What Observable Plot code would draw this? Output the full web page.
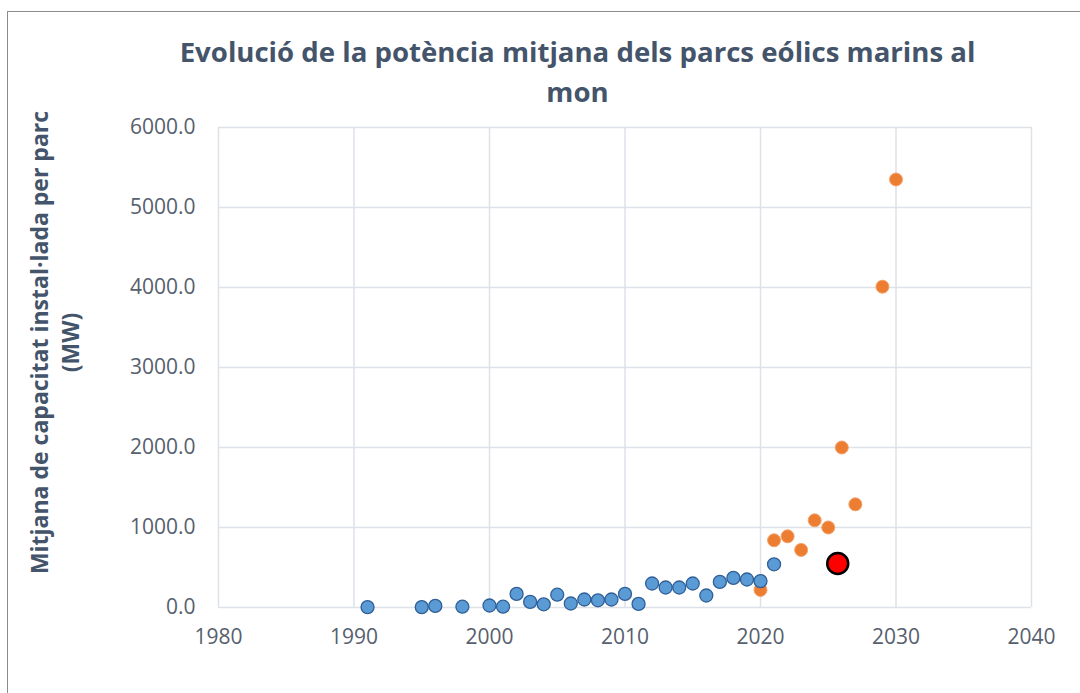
<!DOCTYPE html>
<html>
<head>
<meta charset="utf-8">
<script src="https://cdn.jsdelivr.net/npm/d3@7"></script>
<script src="https://cdn.jsdelivr.net/npm/@observablehq/plot@0.6"></script>
<style>
  html, body { margin: 0; padding: 0; background: #fff; }
  #wrap { position: relative; width: 1080px; height: 693px; overflow: hidden; }
  #border { position: absolute; left: 7px; top: 11px; width: 1100px; height: 700px;
            border-left: 1.5px solid #8c8c8c; border-top: 1.5px solid #8c8c8c; }
  #title { position: absolute; left: 130px; width: 895px; top: 31px; text-align: center;
           font-family: "Open Sans", sans-serif; font-weight: 700; font-size: 27.6px;
           line-height: 40px; color: #44546a; }
  #chart { position: absolute; left: 0; top: 110px; }
</style>
</head>
<body>
<div id="wrap">
  <div id="border"></div>
  <div id="title">Evolució de la potència mitjana dels parcs eólics marins al<br>mon</div>
  <div id="chart"></div>
</div>
<script>
// Historic (blue) series
const histYears = [1991, 1995, 1996, 1998, 2000, 2001, 2002, 2003, 2004, 2005, 2006, 2007, 2008, 2009, 2010, 2011, 2012, 2013, 2014, 2015, 2016, 2017, 2018, 2019, 2020, 2021];
const histValues = [5, 5, 20, 10, 25, 10, 170, 70, 40, 160, 50, 100, 90, 100, 170, 45, 300, 250, 250, 300, 150, 320, 370, 350, 330, 540];
// Planned (orange) series
const planYears = [2020, 2021, 2022, 2023, 2024, 2025, 2026, 2027, 2029, 2030];
const planValues = [220, 840, 890, 720, 1090, 1000, 2000, 1290, 4010, 5350];
// Highlighted point
const highlightYears = [2025.7];
const highlightValues = [550];
// Ticks
const xTicks = [1980, 1990, 2000, 2010, 2020, 2030, 2040];
const yTicks = [0, 1000, 2000, 3000, 4000, 5000, 6000];
const yTitle = "Mitjana de capacitat instal·lada per parc\n(MW)";

const hist = histYears.map((x, i) => ({x, y: histValues[i]}));
const plan = planYears.map((x, i) => ({x, y: planValues[i]}));
const hi = highlightYears.map((x, i) => ({x, y: highlightValues[i]}));

const gridColor = "#dde1e8";

const chart = Plot.plot({
  width: 1080,
  height: 583,
  marginLeft: 218,
  marginRight: 49,
  marginTop: 17,
  marginBottom: 86,
  style: {fontFamily: "Open Sans, sans-serif", fontSize: "21px", color: "#56606e", background: "transparent", overflow: "visible"},
  x: {domain: [1980, 2040]},
  y: {domain: [0, 6000]},
  marks: [
    Plot.gridX(xTicks, {stroke: gridColor, strokeOpacity: 1, strokeWidth: 1.5}),
    Plot.gridY(yTicks, {stroke: gridColor, strokeOpacity: 1, strokeWidth: 1.5}),
    Plot.axisX(xTicks, {tickSize: 0, tickPadding: 22, tickFormat: d => String(d), label: null}),
    Plot.axisY(yTicks, {tickSize: 0, tickPadding: 23, tickFormat: d => d.toFixed(1), label: null}),
    Plot.dot(plan, {x: "x", y: "y", r: 6.5, fill: "#ed7d31", stroke: "#f2a36b", strokeWidth: 1}),
    Plot.dot(hist, {x: "x", y: "y", r: 6.5, fill: "#5b9bd5", stroke: "#2f5f96", strokeWidth: 1.3}),
    Plot.dot(hi, {x: "x", y: "y", r: 10.5, fill: "#ff0000", stroke: "#000000", strokeWidth: 2.5}),
    Plot.text([yTitle], {frameAnchor: "left", text: d => d, rotate: -90, dx: -165, dy: -25,
      fontSize: 23, fontWeight: 700, fill: "#44546a", lineHeight: 1.35, textAnchor: "middle"})
  ]
});
document.getElementById("chart").appendChild(chart);
</script>
</body>
</html>
